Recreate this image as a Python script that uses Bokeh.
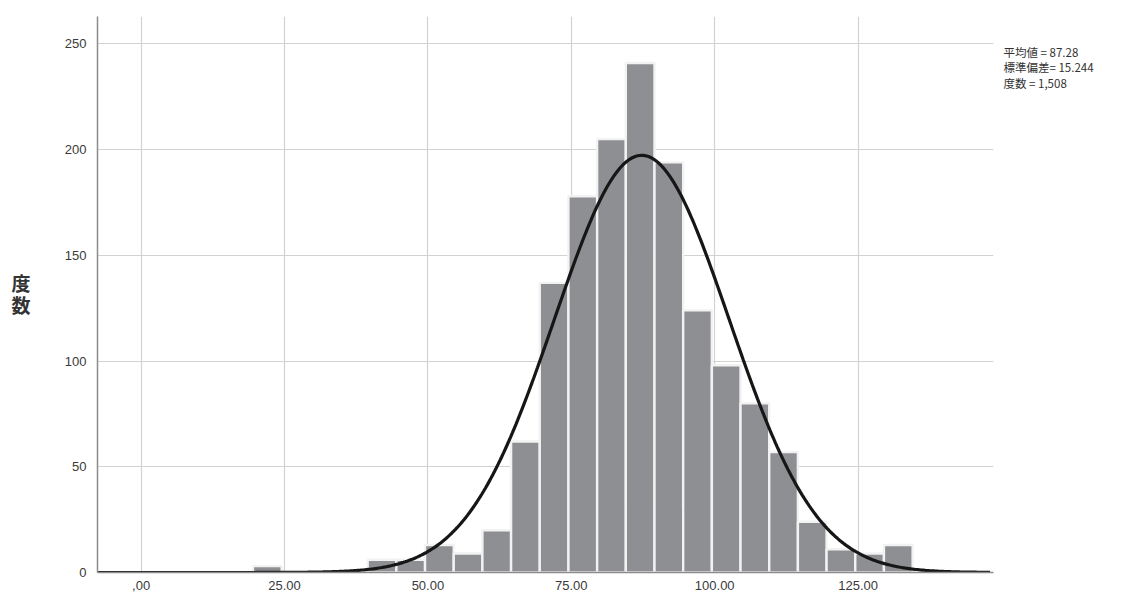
import numpy as np
from bokeh.plotting import figure
from bokeh.models import Range1d, FixedTicker, LinearAxis
from bokeh.embed import file_html
from bokeh.resources import INLINE

# ---- data ----
bin_lower = [19.5, 39.5, 44.5, 49.5, 54.5, 59.5, 64.5, 69.5, 74.5, 79.5,
             84.5, 89.5, 94.5, 99.5, 104.5, 109.5, 114.5, 119.5, 124.5, 129.5]
counts = [3, 6, 6, 13, 9, 20, 62, 137, 178, 205,
          241, 194, 124, 98, 80, 57, 24, 11, 9, 13]
bin_width = 5.0
mean_val = 87.28
std_val = 15.244
n_val = 1508
x_ticks = [0, 25, 50, 75, 100, 125]
x_tick_labels = [",00", "25.00", "50.00", "75.00", "100.00", "125.00"]
y_ticks = [0, 50, 100, 150, 200, 250]
stats_lines = ["平均値 = 87.28", "標準偏差= 15.244", "度数 = 1,508"]
y_title_chars = ["度", "数"]

H = 596
FL, FB, FT = 97, 572, 16  # frame left / bottom / top in canvas pixels
YMAX = 263.0
p = figure(width=1135, height=H, output_backend="svg", toolbar_location=None,
           x_range=Range1d(-7.6, 148.6), y_range=Range1d(0, YMAX),
           min_border_left=FL, min_border_right=142, min_border_top=FT,
           min_border_bottom=H - FB)
p.outline_line_color = None
p.background_fill_color = "white"

def py_to_data(py):
    return round((FB - py) * YMAX / (FB - FT), 2)

left = np.array(bin_lower)
p.quad(left=left, right=left + bin_width, bottom=0, top=counts,
       fill_color="#8e8f93", line_color="#f2f2f2", line_width=2.4)

xs = np.linspace(-7.6, 148.0, 500)
ys = n_val * bin_width / (std_val * np.sqrt(2 * np.pi)) * np.exp(-0.5 * ((xs - mean_val) / std_val) ** 2)
p.line(xs, ys, line_color="#161616", line_width=3.2)

# axes
p.xaxis.ticker = FixedTicker(ticks=x_ticks)
p.xaxis.major_label_overrides = {t: l for t, l in zip(x_ticks, x_tick_labels)}
p.yaxis.ticker = FixedTicker(ticks=y_ticks)
for ax in (p.xaxis, p.yaxis):
    ax.major_tick_out = 0
    ax.major_tick_in = 0
    ax.minor_tick_out = 0
    ax.minor_tick_in = 0
    ax.axis_line_color = "#8c8c8c"
    ax.axis_line_width = 1.5
    ax.major_label_text_font = "Liberation Sans"
    ax.major_label_text_font_size = "13px"
    ax.major_label_text_color = "#3a3a3a"
p.xaxis.major_label_standoff = 8
p.yaxis.major_label_standoff = 11

p.xgrid.ticker = FixedTicker(ticks=x_ticks)
p.ygrid.ticker = FixedTicker(ticks=y_ticks)
p.xgrid.grid_line_color = "#d2d2d2"
p.ygrid.grid_line_color = "#d2d2d2"
p.xgrid.grid_line_width = 1.2
p.ygrid.grid_line_width = 1.2

# y title: stacked characters drawn as the labels of an extra, line-less left axis
title_pos = [py_to_data(282), py_to_data(304)]
title_axis = LinearAxis(ticker=FixedTicker(ticks=title_pos),
                        major_label_overrides={t: c for t, c in zip(title_pos, y_title_chars)},
                        axis_line_color=None, major_tick_out=0, major_tick_in=0,
                        minor_tick_out=0, minor_tick_in=0,
                        major_label_standoff=31,
                        major_label_text_font="Noto Sans CJK JP",
                        major_label_text_font_size="19px",
                        major_label_text_font_style="bold",
                        major_label_text_color="#333333")
p.add_layout(title_axis, "left")

# statistics box: labels of a line-less right axis
stat_pos = [py_to_data(51), py_to_data(67), py_to_data(83)]
stats_axis = LinearAxis(ticker=FixedTicker(ticks=stat_pos),
                        major_label_overrides={t: s for t, s in zip(stat_pos, stats_lines)},
                        axis_line_color=None, major_tick_out=0, major_tick_in=0,
                        minor_tick_out=0, minor_tick_in=0,
                        major_label_standoff=10,
                        major_label_text_font="Noto Sans CJK JP",
                        major_label_text_font_size="11.5px",
                        major_label_text_color="#333333")
p.add_layout(stats_axis, "right")

open("out.html", "w").write(file_html(p, INLINE))
